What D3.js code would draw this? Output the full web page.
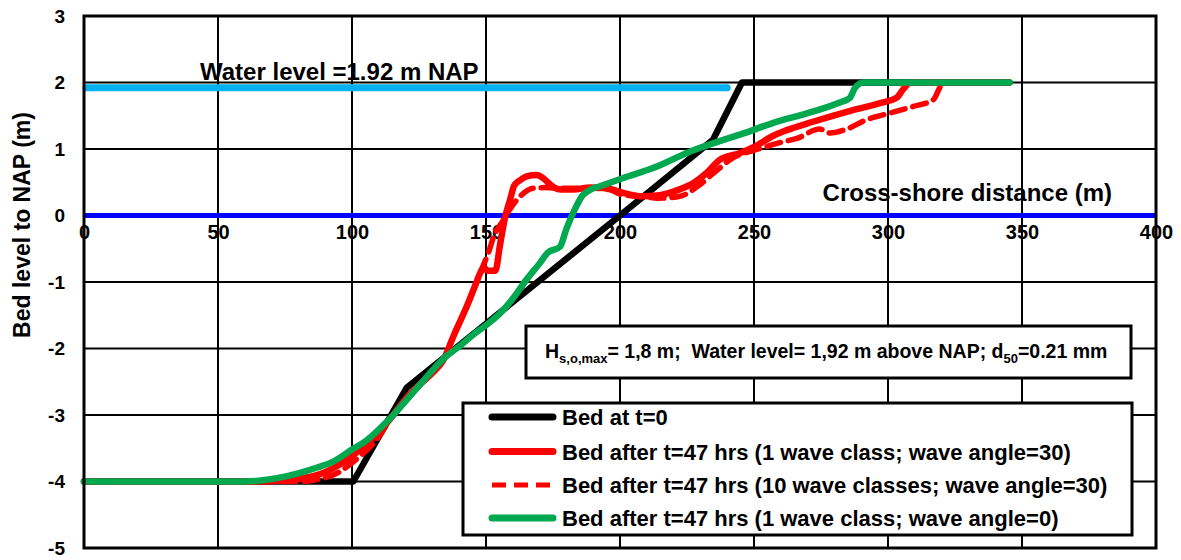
<!DOCTYPE html>
<html>
<head>
<meta charset="utf-8">
<script src="https://cdn.jsdelivr.net/npm/d3@7"></script>
<style>
  html, body { margin: 0; padding: 0; background: #fff; }
  svg text { font-family: "Liberation Sans", Arial, sans-serif; font-weight: bold; fill: #000; }
</style>
</head>
<body>
<svg id="chart" width="1181" height="560"></svg>
<script>
// ---------------- data ----------------
const xTicks = [0, 50, 100, 150, 200, 250, 300, 350, 400];
const yTicks = [3, 2, 1, 0, -1, -2, -3, -4, -5];

const waterLevel = 1.92;
const waterLevelExtent = [0, 240];

const bedInitial = [[0,-4],[100.5,-4],[120.4,-2.59],[200,0],[234.7,1.14],[245.5,2],[345,2]];

const bedWave1Angle30 = [[0,-4],[65,-4],[72,-3.99],[80,-3.96],[90,-3.86],[100,-3.62],[107,-3.38],[115,-3.02],
  [120,-2.76],[125,-2.55],[130,-2.37],[134,-2.18],[138,-1.8],[142.8,-1.37],[146,-1.05],[148,-0.85],[149.2,-0.78],
  [150.5,-0.83],[153.5,-0.83],[155.2,-0.45],[157,-0.05],[159,0.24],[160.5,0.45],[162.7,0.53],[165.2,0.59],
  [168.9,0.61],[171.4,0.56],[173,0.5],[175.5,0.42],[178,0.39],[182.6,0.39],[188.8,0.42],[195,0.41],
  [201.2,0.34],[207.5,0.29],[213.7,0.3],[219.9,0.36],[224,0.42],[227.4,0.49],[232.3,0.64],[237.3,0.84],
  [244.8,0.94],[250,1.03],[257.2,1.2],[262,1.28],[272,1.41],[284.6,1.56],[297,1.69],[303.2,1.77],
  [305.7,1.9],[308.5,2],[345,2]];

const bedWave10Angle30 = [[0,-4],[80,-4],[85.6,-3.98],[95.5,-3.85],[100,-3.72],[103,-3.62],[109.2,-3.37],[115,-3.02],
  [120,-2.76],[125,-2.55],[130,-2.37],[134,-2.18],[138,-1.8],[142.8,-1.37],[146,-1.05],[149,-0.75],
  [151,-0.55],[153,-0.3],[156,-0.1],[159,0.1],[163,0.3],[167.7,0.41],[172,0.42],[180,0.41],[190,0.41],
  [196,0.39],[201,0.31],[210,0.28],[214,0.26],[222.4,0.29],[229,0.44],[235,0.64],[242.3,0.87],[250,0.98],
  [255,1.04],[260,1.1],[266,1.16],[274.6,1.3],[278.4,1.24],[284.6,1.3],[292,1.44],[300.7,1.54],
  [309.4,1.64],[316.9,1.74],[319.4,1.93],[320.6,2],[345,2]];

const bedWave1Angle0 = [[0,-4],[60,-4],[65,-3.99],[72,-3.95],[80.6,-3.87],[87,-3.79],[93,-3.7],[100,-3.52],
  [105.5,-3.38],[110,-3.22],[115,-3.02],[120,-2.79],[125,-2.56],[130,-2.33],[135,-2.12],[140,-1.97],
  [145,-1.8],[150,-1.65],[155,-1.48],[160,-1.25],[165,-0.97],[170,-0.72],[173,-0.56],[177.6,-0.47],
  [180,-0.2],[183,0.08],[186,0.3],[189,0.39],[192.5,0.44],[201,0.56],[214,0.74],[226,0.96],[238,1.13],
  [245,1.22],[257,1.39],[270,1.54],[282,1.7],[285.8,1.77],[287.7,1.92],[290.8,2],[345.5,2]];

const seriesNames = [
  "Bed at t=0",
  "Bed after t=47 hrs (1 wave class; wave angle=30)",
  "Bed after t=47 hrs (10 wave classes; wave angle=30)",
  "Bed after t=47 hrs (1 wave class; wave angle=0)"
];
const seriesColors = ["#000000", "#ff0000", "#ff0000", "#00a84f"];
const seriesDash = [null, null, "14,8", null];

// ---------------- layout ----------------
const svg = d3.select("#chart");
const m = {left: 84, top: 16};
const pw = 1072, ph = 532;
const FONT = '"Liberation Sans", Arial, sans-serif';

const x = d3.scaleLinear().domain([0, 400]).range([m.left, m.left + pw]);
const y = d3.scaleLinear().domain([-5, 3]).range([m.top + ph, m.top]);

// grid
const g = svg.append("g");
g.append("g").selectAll("line").data(xTicks).join("line")
  .attr("x1", d => x(d)).attr("x2", d => x(d))
  .attr("y1", y(3)).attr("y2", y(-5))
  .attr("stroke", "#000").attr("stroke-width", 2);
g.append("g").selectAll("line").data(yTicks).join("line")
  .attr("x1", x(0)).attr("x2", x(400))
  .attr("y1", d => y(d)).attr("y2", d => y(d))
  .attr("stroke", "#000").attr("stroke-width", 2);

// y axis tick labels
const yAxis = d3.axisLeft(y).tickValues(yTicks).tickSize(0).tickPadding(19).tickFormat(d => String(d));
svg.append("g").attr("transform", `translate(${m.left},0)`).call(yAxis)
  .call(a => a.select(".domain").remove())
  .selectAll("text").style("font-size", "19px").style("font-family", FONT).style("font-weight", "bold").attr("fill", "#000");

// zero line (blue)
svg.append("line")
  .attr("x1", x(0)).attr("x2", x(400)).attr("y1", y(0)).attr("y2", y(0))
  .attr("stroke", "#0000ff").attr("stroke-width", 5);

// water level line
svg.append("line")
  .attr("x1", x(waterLevelExtent[0]) + 2).attr("x2", x(waterLevelExtent[1]))
  .attr("y1", y(waterLevel)).attr("y2", y(waterLevel))
  .attr("stroke", "#00b0f0").attr("stroke-width", 7).attr("stroke-linecap", "round");

// x axis tick labels (placed below zero line)
const xAxis = d3.axisBottom(x).tickValues(xTicks).tickSize(0).tickPadding(0).tickFormat(d => String(d));
svg.append("g").attr("transform", `translate(0,${y(0) + 17})`).call(xAxis)
  .call(a => a.select(".domain").remove())
  .selectAll("text").attr("dy", "0.3em").style("font-size", "20px").style("font-family", FONT).style("font-weight", "bold").attr("fill", "#000");

// series
const lineSmooth = d3.line().x(d => x(d[0])).y(d => y(d[1])).curve(d3.curveMonotoneX);
const lineStraight = d3.line().x(d => x(d[0])).y(d => y(d[1])).curve(d3.curveLinear);
const allSeries = [bedInitial, bedWave1Angle30, bedWave10Angle30, bedWave1Angle0];
const drawOrder = [0, 2, 1, 3];
drawOrder.forEach(i => {
  svg.append("path").datum(allSeries[i])
    .attr("d", i === 0 ? lineStraight : lineSmooth)
    .attr("fill", "none")
    .attr("stroke", seriesColors[i])
    .attr("stroke-width", i === 2 ? 5.5 : 6.5)
    .attr("stroke-linejoin", "round")
    .attr("stroke-linecap", "round")
    .attr("stroke-dasharray", seriesDash[i]);
});

// frame
svg.append("rect").attr("x", x(0)).attr("y", y(3)).attr("width", pw).attr("height", ph)
  .attr("fill", "none").attr("stroke", "#000").attr("stroke-width", 3);

// texts
svg.append("text").attr("x", 200).attr("y", 80).style("font-size", "24px").text("Water level =1.92 m NAP");
svg.append("text").attr("x", 1112).attr("y", 201).attr("text-anchor", "end").style("font-size", "24px").text("Cross-shore distance (m)");
svg.append("text").attr("transform", "translate(30,225) rotate(-90)").attr("text-anchor", "middle")
  .style("font-size", "23px").text("Bed level to NAP (m)");

// annotation box
svg.append("rect").attr("x", 526).attr("y", 326).attr("width", 605).attr("height", 52)
  .attr("fill", "#fff").attr("stroke", "#000").attr("stroke-width", 3);
const ann = svg.append("text").attr("x", 545).attr("y", 358).style("font-size", "19.5px").attr("xml:space", "preserve").style("white-space", "pre");
ann.append("tspan").text("H");
ann.append("tspan").attr("dy", 5).style("font-size", "13px").text("s,o,max");
ann.append("tspan").attr("dy", -5).text("= 1,8 m;  Water level= 1,92 m above NAP; d");
ann.append("tspan").attr("dy", 5).style("font-size", "13px").text("50");
ann.append("tspan").attr("dy", -5).text("=0.21 mm");

// legend
svg.append("rect").attr("x", 463).attr("y", 403).attr("width", 669).attr("height", 132)
  .attr("fill", "#fff").attr("stroke", "#000").attr("stroke-width", 3);
const legY = [417, 451.5, 485, 518];
seriesNames.forEach((name, i) => {
  svg.append("line").attr("x1", 492).attr("x2", 553).attr("y1", legY[i]).attr("y2", legY[i])
    .attr("stroke", seriesColors[i]).attr("stroke-width", i === 2 ? 5 : 7)
    .attr("stroke-linecap", i === 2 ? "butt" : "round")
    .attr("stroke-dasharray", i === 2 ? "14,8" : null);
  svg.append("text").attr("x", 562).attr("y", legY[i] + 8).style("font-size", "22px").text(name);
});
</script>
</body>
</html>
